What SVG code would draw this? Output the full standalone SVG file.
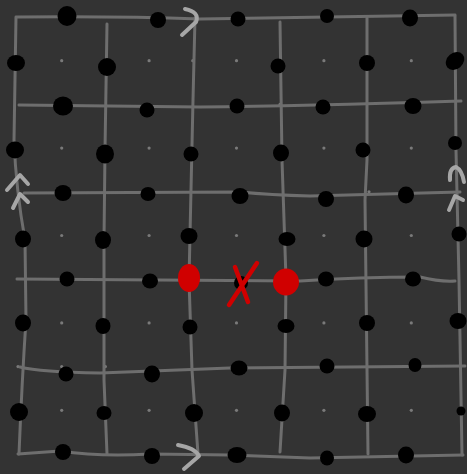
<svg xmlns="http://www.w3.org/2000/svg" width="467" height="474" viewBox="0 0 467 474">
<defs>
<style>
.bg{fill:#333333}
.ln{fill:none;stroke:#6e6e6e;stroke-width:3;stroke-linecap:round;stroke-linejoin:round}
.gd{fill:#7a7a7a}
.bd{fill:#000000}
.rd{fill:#d00000}
.rx{fill:none;stroke:#d00000;stroke-width:4.5;stroke-linecap:round}
.ch{fill:none;stroke:#a6a6a6;stroke-width:4;stroke-linecap:round;stroke-linejoin:round}
</style>
</defs>
<rect class="bg" x="0" y="0" width="467" height="474"/>
<g id="lattice">
<circle class="gd" cx="61.7" cy="60.7" r="1.6"/><circle class="gd" cx="149.1" cy="60.7" r="1.6"/><circle class="gd" cx="236.5" cy="60.7" r="1.6"/><circle class="gd" cx="323.9" cy="60.7" r="1.6"/><circle class="gd" cx="411.3" cy="60.7" r="1.6"/>
<circle class="gd" cx="61.7" cy="148.1" r="1.6"/><circle class="gd" cx="149.1" cy="148.1" r="1.6"/><circle class="gd" cx="236.5" cy="148.1" r="1.6"/><circle class="gd" cx="323.9" cy="148.1" r="1.6"/><circle class="gd" cx="411.3" cy="148.1" r="1.6"/>
<circle class="gd" cx="61.7" cy="235.5" r="1.6"/><circle class="gd" cx="149.1" cy="235.5" r="1.6"/><circle class="gd" cx="236.5" cy="235.5" r="1.6"/><circle class="gd" cx="323.9" cy="235.5" r="1.6"/><circle class="gd" cx="411.3" cy="235.5" r="1.6"/>
<circle class="gd" cx="61.7" cy="322.9" r="1.6"/><circle class="gd" cx="149.1" cy="322.9" r="1.6"/><circle class="gd" cx="236.5" cy="322.9" r="1.6"/><circle class="gd" cx="323.9" cy="322.9" r="1.6"/><circle class="gd" cx="411.3" cy="322.9" r="1.6"/>
<circle class="gd" cx="61.7" cy="410.3" r="1.6"/><circle class="gd" cx="149.1" cy="410.3" r="1.6"/><circle class="gd" cx="236.5" cy="410.3" r="1.6"/><circle class="gd" cx="323.9" cy="410.3" r="1.6"/><circle class="gd" cx="411.3" cy="410.3" r="1.6"/>
<circle class="gd" cx="192.8" cy="60.7" r="1.6"/><circle class="gd" cx="18" cy="366.6" r="1.6"/><circle class="gd" cx="369" cy="191.8" r="1.6"/><circle class="gd" cx="411.3" cy="191.8" r="1.6"/><circle class="gd" cx="61.7" cy="366.6" r="1.6"/><circle class="gd" cx="105.4" cy="366.6" r="1.6"/><circle class="gd" cx="280" cy="104.4" r="1.6"/>
</g>
<g id="connectors">
<path class="ln" d="M17,17 Q120,16 200,19 Q300,17 455,15"/>
<path class="ln" d="M19,105 L200,107 Q300,106 461,101"/>
<path class="ln" d="M24,193 L240,192 Q270,195 310,196 L460,192"/>
<path class="ln" d="M17,279 L300,281 Q360,277 420,277 Q440,282 455,281"/>
<path class="ln" d="M20,367 Q40,372 100,373 L230,368 L465,366"/>
<path class="ln" d="M18,454 L60,451 Q100,457 150,454 L230,455 L310,458 L463,455"/>
<path class="ln" d="M16,17 L14,140 Q16,190 25,240 L26,320 Q22,380 19,454"/>
<path class="ln" d="M107,24 L105,150 L104,240 L104,380 L107,454"/>
<path class="ln" d="M195,18 L193,100 L189,280 L192,370 L198,454"/>
<path class="ln" d="M280,22 L282,160 L286,279 L285,370 L280,452"/>
<path class="ln" d="M367,18 L367,160 L365,200 L368,454"/>
<path class="ln" d="M455,16 L456,150 L459,280 L462,455"/>
<path class="ch" d="M185,9 Q200,12 196,22 L182,35"/>
<path class="ch" d="M178,445 Q195,448 199,456 L184,469"/>
<path class="ch" d="M7,190 L20,175 L28,184"/>
<path class="ch" d="M13,208 L20,194 L28,202"/>
<path class="ch" d="M450,180 Q449,168 456,167 Q462,170 464,182"/>
<path class="ch" d="M449,210 L455,196 L463,200"/>
</g>
<g id="row0">
<ellipse id="n0a" class="bd" cx="67" cy="16" rx="9.5" ry="10"/>
<ellipse id="n0b" class="bd" cx="158" cy="20" rx="8" ry="8"/>
<ellipse id="n0c" class="bd" cx="238" cy="19" rx="7.5" ry="7.5"/>
<ellipse id="n0d" class="bd" cx="327" cy="16" rx="7" ry="7"/>
<ellipse id="n0e" class="bd" cx="410" cy="18" rx="8" ry="8.5"/>
</g>
<g id="row1">
<ellipse id="n1a" class="bd" cx="16" cy="63" rx="9" ry="8"/>
<ellipse id="n1b" class="bd" cx="107" cy="67" rx="9" ry="9"/>
<ellipse id="n1c" class="bd" cx="278" cy="66" rx="7.5" ry="7.5"/>
<ellipse id="n1d" class="bd" cx="367" cy="63" rx="8" ry="8"/>
<ellipse id="n1e" class="bd" cx="455" cy="61" rx="10" ry="8" transform="rotate(-40 455 61)"/>
</g>
<g id="row2">
<ellipse id="n2a" class="bd" cx="63" cy="106" rx="10" ry="9.5"/>
<ellipse id="n2b" class="bd" cx="147" cy="110" rx="7.5" ry="7.5"/>
<ellipse id="n2c" class="bd" cx="237" cy="106" rx="7.5" ry="7.5"/>
<ellipse id="n2d" class="bd" cx="323" cy="107" rx="7.5" ry="7.5"/>
<ellipse id="n2e" class="bd" cx="413" cy="106" rx="8.5" ry="8"/>
</g>
<g id="row3">
<ellipse id="n3a" class="bd" cx="15" cy="150" rx="9" ry="8.5"/>
<ellipse id="n3b" class="bd" cx="105" cy="154" rx="9" ry="9.5"/>
<ellipse id="n3c" class="bd" cx="191" cy="154" rx="7.5" ry="7.5"/>
<ellipse id="n3d" class="bd" cx="281" cy="153" rx="8" ry="8.5"/>
<ellipse id="n3e" class="bd" cx="363" cy="150" rx="7.5" ry="7.5"/>
<ellipse id="n3f" class="bd" cx="455" cy="143" rx="7" ry="7"/>
</g>
<g id="row4">
<ellipse id="n4a" class="bd" cx="63" cy="193" rx="8.5" ry="8"/>
<ellipse id="n4b" class="bd" cx="148" cy="194" rx="7.5" ry="7"/>
<ellipse id="n4c" class="bd" cx="240" cy="196" rx="8.5" ry="8"/>
<ellipse id="n4d" class="bd" cx="326" cy="199" rx="8" ry="8"/>
<ellipse id="n4e" class="bd" cx="406" cy="195" rx="8" ry="8.5"/>
</g>
<g id="row5">
<ellipse id="n5a" class="bd" cx="23" cy="239" rx="8" ry="8.5"/>
<ellipse id="n5b" class="bd" cx="103" cy="240" rx="8" ry="9"/>
<ellipse id="n5c" class="bd" cx="189" cy="236" rx="8.5" ry="8"/>
<ellipse id="n5d" class="bd" cx="287" cy="239" rx="8.5" ry="7"/>
<ellipse id="n5e" class="bd" cx="364" cy="239" rx="8.5" ry="8.5"/>
<ellipse id="n5f" class="bd" cx="459" cy="234" rx="7.5" ry="7.5"/>
</g>
<g id="row6">
<ellipse id="n6a" class="bd" cx="67" cy="279" rx="7.5" ry="7.5"/>
<ellipse id="n6b" class="bd" cx="150" cy="281" rx="8" ry="7.5"/>
<ellipse id="n6c" class="bd" cx="241" cy="283" rx="7" ry="7"/>
<ellipse id="n6d" class="bd" cx="326" cy="279" rx="8" ry="7.5"/>
<ellipse id="n6e" class="bd" cx="413" cy="279" rx="8" ry="7.5"/>
</g>
<g id="red-nodes">
<ellipse id="r1" class="rd" cx="189" cy="278" rx="11" ry="14"/>
<ellipse id="r2" class="rd" cx="286" cy="282" rx="13" ry="13.5"/>
<path id="rxmark" class="rx" d="M229,305 L257,263 M235,267 L248,302"/>
</g>
<g id="row7">
<ellipse id="n7a" class="bd" cx="23" cy="323" rx="8" ry="8.5"/>
<ellipse id="n7b" class="bd" cx="103" cy="326" rx="7.5" ry="8"/>
<ellipse id="n7c" class="bd" cx="190" cy="327" rx="7.5" ry="7.5"/>
<ellipse id="n7d" class="bd" cx="286" cy="326" rx="8.5" ry="7"/>
<ellipse id="n7e" class="bd" cx="367" cy="323" rx="8" ry="8"/>
<ellipse id="n7f" class="bd" cx="458" cy="321" rx="8.5" ry="8"/>
</g>
<g id="row8">
<ellipse id="n8a" class="bd" cx="66" cy="374" rx="7.5" ry="7.5"/>
<ellipse id="n8b" class="bd" cx="152" cy="374" rx="8" ry="8.5"/>
<ellipse id="n8c" class="bd" cx="239" cy="368" rx="8.5" ry="7.5"/>
<ellipse id="n8d" class="bd" cx="327" cy="366" rx="7.5" ry="7.5"/>
<ellipse id="n8e" class="bd" cx="415" cy="365" rx="6.5" ry="7"/>
</g>
<g id="row9">
<ellipse id="n9a" class="bd" cx="19" cy="412" rx="9" ry="9"/>
<ellipse id="n9b" class="bd" cx="104" cy="413" rx="7.5" ry="7"/>
<ellipse id="n9c" class="bd" cx="194" cy="413" rx="9" ry="9"/>
<ellipse id="n9d" class="bd" cx="282" cy="413" rx="8" ry="8.5"/>
<ellipse id="n9e" class="bd" cx="367" cy="414" rx="9" ry="8"/>
<ellipse id="n9f" class="bd" cx="461" cy="411" rx="4.5" ry="4.5"/>
</g>
<g id="row10">
<ellipse id="n10a" class="bd" cx="63" cy="452" rx="8" ry="8"/>
<ellipse id="n10b" class="bd" cx="152" cy="456" rx="8" ry="8"/>
<ellipse id="n10c" class="bd" cx="237" cy="455" rx="9.5" ry="8"/>
<ellipse id="n10d" class="bd" cx="327" cy="458" rx="7" ry="7.5"/>
<ellipse id="n10e" class="bd" cx="406" cy="455" rx="8" ry="8.5"/>
</g>
</svg>
